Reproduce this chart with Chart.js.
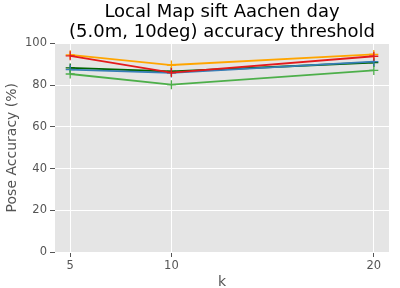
<!DOCTYPE html>
<html>
<head>
<meta charset="utf-8">
<script src="https://cdn.jsdelivr.net/npm/chart.js@4"></script>
<style>
  html, body { margin: 0; padding: 0; background: #fff; }
  #wrap { width: 400px; height: 288px; }
</style>
</head>
<body>
<div id="wrap"><canvas id="chart1" width="400" height="288"></canvas></div>
<script>
// k values on the x axis
const kValues = [5, 10, 20];
const yTicks = [0, 20, 40, 60, 80, 100];

// pose accuracy per line
const darkGreenLine = [88.2, 86.5, 90.8];
const blueLine = [87.4, 85.8, 91.2];
const greenLine = [85.3, 80.2, 87.0];
const orangeLine = [94.5, 89.6, 94.7];
const redLine = [94.0, 86.0, 93.8];

function pts(vals) {
  return kValues.map((k, i) => ({ x: k, y: vals[i] }));
}

function line(vals, color) {
  return {
    data: pts(vals),
    borderColor: color,
    backgroundColor: color,
    borderWidth: 1.8,
    pointStyle: 'cross',
    pointRadius: 4.5,
    pointBorderWidth: 1.3,
    pointHoverRadius: 4.5,
    tension: 0,
    fill: false
  };
}

const panelBg = {
  id: 'panelBg',
  beforeDraw(chart) {
    const a = chart.chartArea;
    const c = chart.ctx;
    c.save();
    c.fillStyle = '#E5E5E5';
    c.fillRect(a.left, a.top, a.right - a.left, a.bottom - a.top);
    c.restore();
  }
};

const ctx = document.getElementById('chart1').getContext('2d');
// first dataset is drawn on top in Chart.js
new Chart(ctx, {
  type: 'line',
  data: {
    datasets: [
      line(redLine, '#E41A1C'),
      line(orangeLine, '#FFA500'),
      line(greenLine, '#4DAF4A'),
      line(blueLine, '#377EB8'),
      line(darkGreenLine, '#006400')
    ]
  },
  options: {
    responsive: false,
    animation: false,
    layout: { padding: { left: 4, right: 11, top: 2, bottom: 0 } },
    plugins: {
      legend: { display: false },
      tooltip: { enabled: false },
      title: {
        display: true,
        fullSize: false,
        text: ['Local Map sift Aachen day', '(5.0m, 10deg) accuracy threshold'],
        color: '#000',
        font: { family: 'DejaVu Sans', size: 18, weight: 'normal', lineHeight: 1.12 },
        padding: { top: 0, bottom: 1 }
      }
    },
    scales: {
      x: {
        type: 'linear',
        min: 4.25,
        max: 20.75,
        afterBuildTicks(axis) {
          axis.ticks = kValues.map(v => ({ value: v }));
        },
        afterFit(axis) { axis.height = 36; },
        grid: {
          color: '#fff',
          lineWidth: 1,
          drawTicks: true,
          tickLength: 5,
          tickColor: '#555'
        },
        border: { display: false },
        ticks: {
          color: '#555',
          font: { family: 'DejaVu Sans', size: 11.5 },
          padding: 2,
          maxRotation: 0
        },
        title: {
          display: true,
          text: 'k',
          color: '#555',
          font: { family: 'DejaVu Sans', size: 14 },
          padding: { top: 0, bottom: -3 }
        }
      },
      y: {
        min: 0,
        max: 100,
        afterBuildTicks(axis) {
          axis.ticks = yTicks.map(v => ({ value: v }));
        },
        afterFit(axis) { axis.width = 51; },
        grid: {
          color: '#fff',
          lineWidth: 1,
          drawTicks: true,
          tickLength: 5,
          tickColor: '#555'
        },
        border: { display: false },
        ticks: {
          color: '#555',
          font: { family: 'DejaVu Sans', size: 11.5 },
          padding: 3
        },
        title: {
          display: true,
          text: 'Pose Accuracy (%)',
          color: '#555',
          font: { family: 'DejaVu Sans', size: 14 },
          padding: { top: 0, bottom: 2 }
        }
      }
    }
  },
  plugins: [panelBg]
});
</script>
</body>
</html>
